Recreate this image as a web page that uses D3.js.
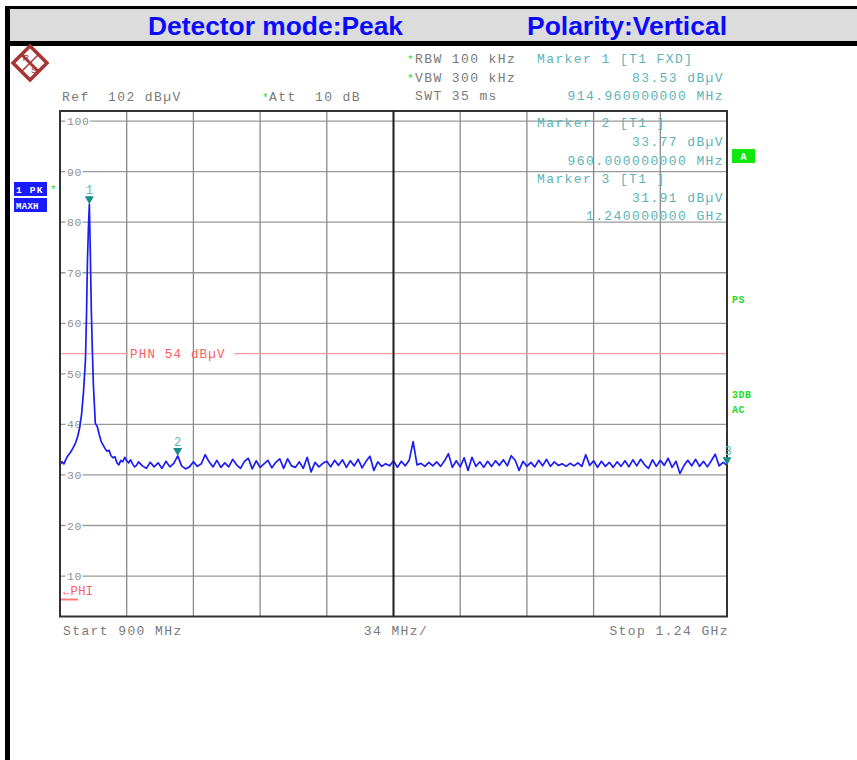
<!DOCTYPE html>
<html><head><meta charset="utf-8">
<script src="https://cdn.jsdelivr.net/npm/d3@7"></script>
<style>body{margin:0;background:#fff} svg{display:block} text{white-space:pre}</style>
</head><body><svg id="c" width="857" height="760"></svg>
<script>
// ---------- data ----------
const titleTexts = ["Detector mode:Peak", "Polarity:Vertical"];
const refLevel = 102, bottomLevel = 2;
const startMHz = 900, stopMHz = 1240;
const yTicks = [100, 90, 80, 70, 60, 50, 40, 30, 20, 10];
const xGridMHz = [900, 934, 968, 1002, 1036, 1070, 1104, 1138, 1172, 1206, 1240];
const peakFreqs = [900,901,902,903,904,905,906,907,908,909,910,911,912,913,913.5,914,914.5,914.96,915.5,916,916.5,917,918,919,920,921,922,923,924,925,926,927,928,929,930,931,932,933,934,935,936,937,938,939];
const peakLevels = [32.0,32.6,32.2,33.1,33.8,34.3,34.9,35.6,36.4,37.6,39.3,42.0,46.5,53.0,61.5,72.5,79.0,83.53,73.0,62.0,54.5,48.0,40.2,39.6,38.0,36.6,35.9,35.2,34.7,34.9,33.8,33.4,33.6,32.4,32.0,32.9,32.6,33.5,32.8,32.4,33.0,32.2,31.6,31.9];
const floorStartMHz = 940, floorStepMHz = 2;
const floorLevels = [
  32.6,31.8,31.3,32.5,31.6,32.4,31.3,32.7,31.6,32.3,
  33.77,31.8,31.2,31.6,32.6,31.7,32.2,34.0,32.6,31.6,
  32.9,31.5,32.4,31.6,33.1,32.0,31.3,32.7,33.3,31.2,
  32.8,31.5,32.2,32.9,31.4,32.5,33.2,31.3,33.2,31.8,
  31.5,32.6,31.3,33.5,30.6,32.5,31.6,32.3,32.7,31.6,
  32.9,31.9,33.0,31.5,32.8,31.8,33.1,31.4,32.7,33.7,
  30.9,32.6,31.7,32.2,31.8,32.8,31.5,32.7,31.8,32.9,
  36.6,32.0,32.3,31.7,32.5,31.8,32.6,31.7,32.8,34.2,
  31.5,32.8,31.6,33.4,30.9,33.5,31.7,32.6,31.5,32.7,
  31.7,32.8,31.9,33.0,31.8,33.8,32.9,30.9,32.7,31.7,
  32.5,31.6,32.9,31.8,33.1,31.7,32.6,31.9,32.2,31.7,
  32.3,31.8,32.4,31.7,34.0,31.9,32.8,31.5,32.7,31.7,
  32.5,31.5,32.6,31.7,32.8,31.6,33.0,31.8,33.1,32.0,
  31.3,33.0,31.7,32.9,31.9,33.3,31.5,32.7,30.3,31.8,
  32.9,31.8,33.1,31.7,32.7,31.6,32.8,34.1,31.8,32.5,
  31.91];
const markerIds = ["1", "2", "3"];
const markerFreqs = [914.96, 960, 1240];
const markerLevels = [83.53, 33.77, 31.91];
const phnLevel = 54;
const markerInfo = [
  ["Marker 1 [T1 FXD]", "83.53 dBµV", "914.960000000 MHz"],
  ["Marker 2 [T1 ]", "33.77 dBµV", "960.000000000 MHz"],
  ["Marker 3 [T1 ]", "31.91 dBµV", "1.240000000 GHz"]];

// ---------- drawing ----------
const svg = d3.select("#c");
const MONO = "'Courier New','Liberation Mono',monospace";
const x = d3.scaleLinear().domain([startMHz, stopMHz]).range([60, 727]);
const y = d3.scaleLinear().domain([bottomLevel, refLevel]).range([616.5, 111]);

function mono(xp, yp, str, color, anchor = "start", size = 13, ls = 1.4) {
  return svg.append("text").attr("x", xp).attr("y", yp).text(str)
    .attr("font-family", MONO).attr("font-size", size).attr("letter-spacing", ls)
    .attr("fill", color).attr("text-anchor", anchor).attr("xml:space", "preserve");
}

// frame decorations
svg.append("rect").attr("x", 5).attr("y", 6).attr("width", 852).attr("height", 3).attr("fill", "#000");
svg.append("rect").attr("x", 10).attr("y", 9).attr("width", 847).attr("height", 32).attr("fill", "#dcdcdc");
svg.append("rect").attr("x", 5).attr("y", 41).attr("width", 852).attr("height", 5).attr("fill", "#000");
svg.append("rect").attr("x", 5).attr("y", 6).attr("width", 5).attr("height", 754).attr("fill", "#000");

svg.append("text").attr("x", 148).attr("y", 35).text(titleTexts[0])
  .attr("font-family", "'Liberation Sans',Arial,sans-serif").attr("font-weight", "bold")
  .attr("font-size", 25).attr("fill", "#0a0aff").attr("textLength", 255).attr("lengthAdjust", "spacingAndGlyphs");
svg.append("text").attr("x", 527).attr("y", 35).text(titleTexts[1])
  .attr("font-family", "'Liberation Sans',Arial,sans-serif").attr("font-weight", "bold")
  .attr("font-size", 25).attr("fill", "#0a0aff").attr("textLength", 200).attr("lengthAdjust", "spacingAndGlyphs");

// logo
const logo = svg.append("g").attr("transform", "translate(30,63)");
logo.append("path").attr("d", "M0,-17 L17,0 L0,17 L-17,0 Z").attr("fill", "none").attr("stroke", "#a83434").attr("stroke-width", 3.5);
logo.append("line").attr("x1", -9).attr("y1", -9).attr("x2", 9).attr("y2", 9).attr("stroke", "#a83434").attr("stroke-width", 3);
logo.append("line").attr("x1", 9).attr("y1", -9).attr("x2", -9).attr("y2", 9).attr("stroke", "#a83434").attr("stroke-width", 1.5);
logo.append("text").attr("x", -4).attr("y", -2).text("R").attr("font-size", 9).attr("font-family", "Liberation Sans").attr("fill", "#a83434").attr("text-anchor", "middle");
logo.append("text").attr("x", 4).attr("y", 10).text("S").attr("font-size", 9).attr("font-family", "Liberation Sans").attr("fill", "#a83434").attr("text-anchor", "middle");

// header texts
const GREY = "#7a7a7a", TEAL = "#5cb4b4", GREEN = "#1fdc1f";
mono(62, 101, "Ref  102 dBµV", GREY);
mono(262, 101, "*", GREEN, "start", 11, 0);
mono(269, 101, "Att  10 dB", GREY);
mono(407, 63, "*", GREEN, "start", 11, 0);
mono(415, 63, "RBW 100 kHz", GREY);
mono(407, 82, "*", GREEN, "start", 11, 0);
mono(415, 82, "VBW 300 kHz", GREY);
mono(415, 100, "SWT 35 ms", GREY);

// grid
const grid = svg.append("g");
grid.selectAll("line.h").data(yTicks).join("line").attr("class", "h")
  .attr("x1", x(startMHz)).attr("x2", x(stopMHz)).attr("y1", d => y(d)).attr("y2", d => y(d))
  .attr("stroke", "#9a9a9a").attr("stroke-width", 1.3);
grid.selectAll("line.v").data(xGridMHz).join("line").attr("class", "v")
  .attr("x1", d => x(d)).attr("x2", d => x(d)).attr("y1", y(refLevel)).attr("y2", y(bottomLevel))
  .attr("stroke", "#8a8a8a").attr("stroke-width", 1.3);

// y tick labels
yTicks.forEach(t => {
  const bg = svg.append("rect").attr("fill", "#fff");
  const tx = mono(67, y(t) + 4, String(t), "#909090", "start", 11.5, 0.6);
  const w = tx.node().getComputedTextLength();
  bg.attr("x", 65.5).attr("y", y(t) - 2).attr("width", w + 2).attr("height", 4);
});

// marker readouts
const readoutBase = [[63, 82, 100], [127, 146, 165], [183, 202, 220]];
markerInfo.forEach((m, i) => {
  mono(537, readoutBase[i][0], m[0], TEAL);
  mono(724, readoutBase[i][1], m[1], TEAL, "end");
  mono(724, readoutBase[i][2], m[2], TEAL, "end");
});

// PHN line
const phY = y(phnLevel);
svg.append("line").attr("x1", 60).attr("x2", 128).attr("y1", phY).attr("y2", phY).attr("stroke", "#ff9a9a").attr("stroke-width", 1.2);
svg.append("line").attr("x1", 234).attr("x2", 727).attr("y1", phY).attr("y2", phY).attr("stroke", "#ff9a9a").attr("stroke-width", 1.2);
mono(130, phY + 4, "PHN 54 dBµV", "#ff5c5c", "start", 12.5, 1.2);
mono(63, 595, "←PHI", "#ff5c5c", "start", 12, 0.4);
svg.append("line").attr("x1", 61).attr("x2", 78).attr("y1", 599.5).attr("y2", 599.5).attr("stroke", "#ff7a7a").attr("stroke-width", 2);

// trace
const tracePts = peakFreqs.map((f, i) => [f, peakLevels[i]])
  .concat(floorLevels.map((v, i) => [floorStartMHz + i * floorStepMHz, v]));
svg.append("clipPath").attr("id", "clip").append("rect").attr("x", 60).attr("y", 111).attr("width", 667).attr("height", 506);
svg.append("path").datum(tracePts).attr("clip-path", "url(#clip)")
  .attr("d", d3.line().x(d => x(d[0])).y(d => y(d[1])))
  .attr("fill", "none").attr("stroke", "#1c1cf4").attr("stroke-width", 1.7).attr("stroke-linejoin", "round");

// frame + centre line
svg.append("rect").attr("x", 60).attr("y", 111).attr("width", 667).attr("height", 505.5)
  .attr("fill", "none").attr("stroke", "#333").attr("stroke-width", 2);
svg.append("line").attr("x1", x((startMHz + stopMHz) / 2)).attr("x2", x((startMHz + stopMHz) / 2))
  .attr("y1", 111).attr("y2", 616.5).attr("stroke", "#222").attr("stroke-width", 2);

// markers
markerIds.forEach((id, i) => {
  const mx = x(markerFreqs[i]), my = y(markerLevels[i]);
  svg.append("path").attr("d", `M${mx},${my} L${mx - 4.5},${my - 8} L${mx + 4.5},${my - 8} Z`).attr("fill", "#1b8a8a");
  mono(mx + (i === 2 ? 1 : 0), my - 10, id, TEAL, "middle", 12, 0);
});

// left badges
svg.append("rect").attr("x", 14).attr("y", 182).attr("width", 33).attr("height", 14).attr("fill", "#1a1aff");
svg.append("text").attr("x", 16).attr("y", 192.5).text("1 PK").attr("font-family", MONO).attr("font-weight", "bold").attr("font-size", 9.5).attr("letter-spacing", 1.2).attr("fill", "#fff");
svg.append("rect").attr("x", 14).attr("y", 198).attr("width", 33).attr("height", 14).attr("fill", "#1a1aff");
svg.append("text").attr("x", 16).attr("y", 208.5).text("MAXH").attr("font-family", MONO).attr("font-weight", "bold").attr("font-size", 9).attr("letter-spacing", 0.3).attr("fill", "#fff");
mono(50, 193, "*", GREEN, "start", 11, 0);

// right badges
svg.append("rect").attr("x", 732).attr("y", 149).attr("width", 23).attr("height", 14).attr("fill", "#11e611");
svg.append("text").attr("x", 743.5).attr("y", 159.5).text("A").attr("font-family", MONO).attr("font-weight", "bold").attr("font-size", 10).attr("fill", "#fff").attr("text-anchor", "middle");
[["PS", 303], ["3DB", 398], ["AC", 413]].forEach(([s, yy]) =>
  svg.append("text").attr("x", 732).attr("y", yy).text(s).attr("font-family", MONO).attr("font-weight", "bold").attr("font-size", 10).attr("letter-spacing", 0.5).attr("fill", GREEN));

// bottom labels
mono(63, 635, "Start 900 MHz", GREY);
mono(396, 635, "34 MHz/", GREY, "middle");
mono(729, 635, "Stop 1.24 GHz", GREY, "end");
</script></body></html>
